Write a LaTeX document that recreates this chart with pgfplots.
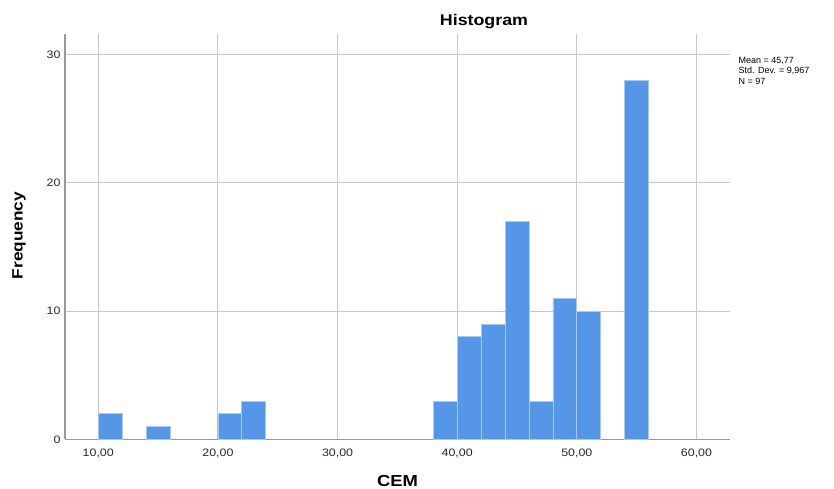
\documentclass[border=0pt]{standalone}
\usepackage{pgfplots}
\pgfplotsset{compat=1.18}
\usepackage{fontspec}
\setmainfont[FakeStretch=1.15]{Liberation Sans}
\newfontfamily\plainfont{Liberation Sans}
\definecolor{barblue}{HTML}{5596E6}
\definecolor{baredge}{HTML}{A9C9F2}
\definecolor{gridgray}{HTML}{C8C8C8}
\definecolor{axgray}{HTML}{9A9A9A}
\begin{document}
\begin{tikzpicture}
\useasboundingbox (0,0) rectangle (834pt,489pt);
\begin{axis}[
  at={(65pt,49.5pt)}, anchor=south west,
  scale only axis, width=664.5pt, height=405.5pt,
  xmin=7.22, xmax=62.76, ymin=0, ymax=31.6,
  axis lines=left, axis line style={-, axgray, line width=1.3pt},
  xtick={10,20,30,40,50,60},
  xticklabels={{10,00},{20,00},{30,00},{40,00},{50,00},{60,00}},
  ytick={0,10,20,30},
  grid=major, major grid style={gridgray, line width=0.9pt},
  major tick length=0pt,
  tick label style={font=\fontsize{10.8}{12}\selectfont, text=black!85},
  /pgf/number format/assume math mode=true,
  xticklabel style={yshift=-5.5pt},
  yticklabel style={xshift=-1pt},
  clip=false,
]
\addplot[ybar, bar width=2, bar shift=0pt, fill=barblue, draw=baredge, line width=0.7pt]
coordinates {(11,2) (15,1) (21,2) (23,3) (39,3) (41,8) (43,9) (45,17) (47,3) (49,11) (51,10) (55,28)};
\end{axis}
\node[font=\fontsize{15.5}{18}\selectfont\bfseries] at (484pt,467pt) {Histogram};
\node[font=\fontsize{15}{18}\selectfont\bfseries, rotate=90] at (19pt,253.5pt) {Frequency};
\node[font=\fontsize{16}{18}\selectfont\bfseries] at (397.5pt,8pt) {CEM};
\node[font=\plainfont\fontsize{9}{10.5}\selectfont, anchor=north west, align=left, inner sep=0pt] at (738.5pt,432pt) {Mean = 45,77\\Std. Dev. = 9,967\\N = 97};
\end{tikzpicture}
\end{document}
